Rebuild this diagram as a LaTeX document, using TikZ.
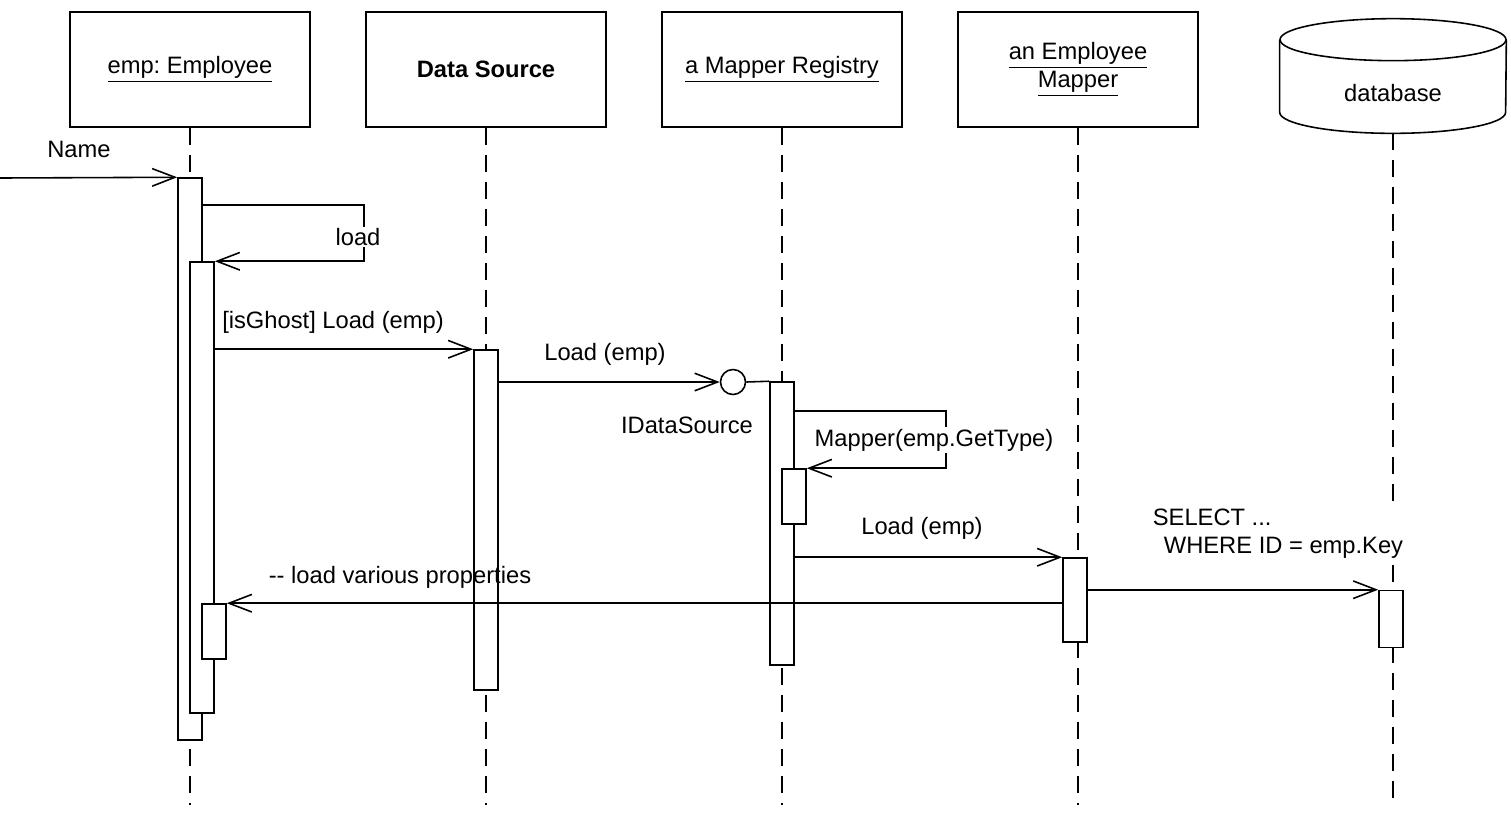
\documentclass[tikz,border=0pt]{standalone}
\usepackage{fontspec}
\setmainfont{Liberation Sans}
\frenchspacing
\usepackage{tikz}
\usetikzlibrary{shapes.geometric, arrows.meta, positioning}
\tikzstyle{objbox}   = [rectangle, draw=black, line width=0.9pt, fill=white, minimum width=4.8cm, minimum height=2.3cm, text centered]
\tikzstyle{dbshape}  = [rectangle, inner sep=0pt, minimum width=4.52cm, minimum height=2.28cm]
\tikzstyle{dbline}   = [line width=0.9pt]
\tikzstyle{actbar}   = [rectangle, draw=black, line width=0.9pt, fill=white, minimum width=0.48cm, inner sep=0pt]
\tikzstyle{lifeline} = [line width=0.7pt, dash pattern=on 0.34cm off 0.2cm]
\tikzstyle{msg}      = [line width=0.9pt, -{Straight Barb[length=13pt,width=10pt]}]
\tikzstyle{lbl}      = [inner sep=1pt]
\tikzset{every node/.style={align=center}}

\begin{document}
\begin{tikzpicture}[x=0.02cm, y=-0.02cm, font=\fontsize{13.5}{16}\selectfont]
    \useasboundingbox (0,0) rectangle (1511,816);

    \node (emp)    [objbox]  at (190,69.5)  {\underline{emp: Employee}};
    \node (dsrc)   [objbox]  at (486,69.5)  {\textbf{Data Source}};
    \node (reg)    [objbox]  at (782,69.5)  {\underline{a Mapper Registry}};
    \node (empmap) [objbox]  at (1078,69.5) {\underline{an Employee}\\\underline{Mapper}};
    \node (db)     [dbshape, label={[yshift=-0.34cm]center:database}] at (1393,76) {};
    \draw [dbline] ([yshift=-0.42cm]db.north west) -- ([yshift=0.42cm]db.south west)
        arc [start angle=180, end angle=360, x radius=2.26cm, y radius=0.42cm] -- ([yshift=-0.42cm]db.north east);
    \draw [dbline] ([yshift=-0.42cm]db.north) ellipse [x radius=2.26cm, y radius=0.42cm];

    \coordinate (empend)    at (190,805);
    \coordinate (dsrcend)   at (486,805);
    \coordinate (regend)    at (782,805);
    \coordinate (empmapend) at (1078,805);
    \coordinate (dbend)     at (1393,805);
    \coordinate (start)     at (0,178);

    \draw [lifeline] (emp.south)    -- (empend);
    \draw [lifeline] (dsrc.south)   -- (dsrcend);
    \draw [lifeline] (reg.south)    -- (regend);
    \draw [lifeline] (empmap.south) -- (empmapend);
    \draw [lifeline] (db.south)     -- (dbend);

    \node (a1)    [actbar, minimum height=11.24cm] at (190,459)   {};
    \node (a2)    [actbar, minimum height=9.02cm]  at (202,487.5) {};
    \node (a3)    [actbar, minimum height=1.1cm]   at (214,631.5) {};
    \node (ds)    [actbar, minimum height=6.8cm]   at (486,520)   {};
    \node (mr)    [actbar, minimum height=5.66cm]  at (782,523.5) {};
    \node (mr2)   [actbar, minimum height=1.1cm]   at (794,496.5) {};
    \node (em)    [actbar, minimum height=1.68cm]  at (1075,600)  {};
    \node (dbbar) [actbar, minimum height=1.14cm]  at (1391,619)  {};
    \node (iface) [circle, draw=black, line width=0.9pt, fill=white, minimum size=0.5cm, inner sep=0pt] at (733,382) {};

    \draw [msg] (start) -- (a1.north west);
    \draw [msg] ([yshift=-0.56cm]a1.north east) -| ([xshift=2.98cm]a2.north east) -- (a2.north east);
    \draw [msg] (a2.east |- ds.north) -- (ds.north west);
    \draw [msg] (ds.east |- iface) -- (iface.west);
    \draw [line width=0.9pt] (iface.east) -- (mr.north west);
    \draw [msg] ([yshift=-0.6cm]mr.north east) -| ([xshift=2.78cm]mr2.north east) -- (mr2.north east);
    \draw [msg] (mr.east |- em.north) -- (em.north west);
    \draw [msg] (em.east |- dbbar.north) -- (dbbar.north west);
    \draw [msg] (em.west |- a3.north) -- (a3.north east);

    \node (lname)   [lbl]             at (79,149)  {Name};
    \node (lload)   [lbl, fill=white] at (358,237) {load};
    \node (lghost)  [lbl]             at (333,322) {[isGhost] Load (emp)};
    \node (lload2)  [lbl]             at (605,354) {Load (emp)};
    \node (lidata)  [lbl]             at (687,425) {IDataSource};
    \node (lmapper) [lbl, fill=white] at (934,440) {Mapper(emp.GetType)};
    \node (lload3)  [lbl]             at (922,528) {Load (emp)};
    \node (lselect) [lbl, fill=white, align=left] at (1278,534) {SELECT ...\\\hspace*{0.22cm}WHERE ID = emp.Key};
    \node (lprops)  [lbl]             at (400,577) {-{}- load various properties};
\end{tikzpicture}
\end{document}
